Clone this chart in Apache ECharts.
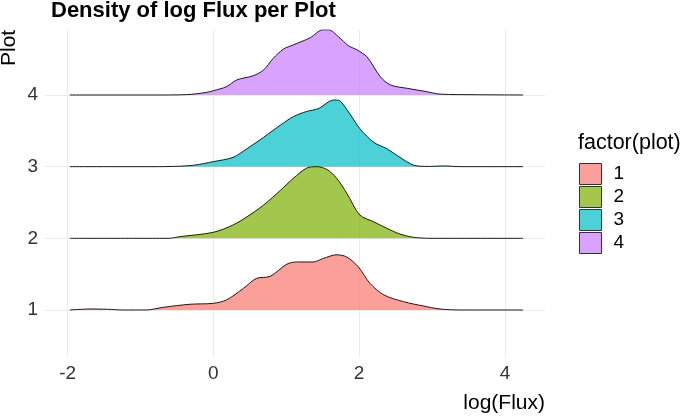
<!DOCTYPE html>
<html>
<head>
<meta charset="utf-8">
<script src="https://cdn.jsdelivr.net/npm/echarts@6/dist/echarts.min.js"></script>
<style>
  html, body { margin: 0; padding: 0; background: #fff; }
  #main { width: 685px; height: 418px; }
</style>
</head>
<body>
<div id="main"></div>
<script>
// ridge data: x = log(Flux), h = density height (in row units)
const plotNames = ['1', '2', '3', '4'];
const plotColors = ['rgba(248,118,109,0.7)', 'rgba(124,174,0,0.7)', 'rgba(0,191,196,0.7)', 'rgba(199,124,255,0.7)'];
const xTicks = [-2, 0, 2, 4];
const yTicks = [1, 2, 3, 4];

const x1 = [-1.97, -1.69, -1.45, -1.24, -0.92, -0.69, -0.32, 0, 0.18, 0.41, 0.59, 0.78, 1.01, 1.14, 1.37, 1.51, 1.69, 1.83, 1.99, 2.15, 2.34, 2.61, 2.88, 3.11, 3.4, 4.25];
const h1 = [0, 0.014, 0.01, 0, 0, 0.037, 0.08, 0.093, 0.14, 0.30, 0.44, 0.47, 0.64, 0.67, 0.67, 0.72, 0.77, 0.74, 0.60, 0.37, 0.21, 0.116, 0.056, 0.014, 0, 0];

const x2 = [-1.97, -0.61, -0.46, 0, 0.27, 0.46, 0.69, 0.92, 1.10, 1.28, 1.42, 1.56, 1.69, 1.83, 2.01, 2.20, 2.38, 2.56, 2.75, 3.0, 4.25];
const h2 = [0, 0, 0.023, 0.084, 0.186, 0.30, 0.465, 0.67, 0.84, 0.98, 1.0, 0.96, 0.84, 0.63, 0.325, 0.23, 0.14, 0.06, 0.014, 0, 0];

const x3 = [-1.97, -0.8, -0.53, -0.27, 0, 0.27, 0.46, 0.69, 0.92, 1.10, 1.28, 1.44, 1.65, 1.72, 1.83, 2.01, 2.20, 2.38, 2.56, 2.75, 2.95, 3.16, 3.4, 4.25];
const h3 = [0, 0, 0.004, 0.02, 0.07, 0.13, 0.25, 0.41, 0.58, 0.70, 0.77, 0.81, 0.93, 0.925, 0.80, 0.53, 0.34, 0.25, 0.13, 0.02, 0.003, 0.01, 0, 0];

const x4 = [-1.97, -0.8, -0.37, -0.1, 0, 0.18, 0.32, 0.55, 0.69, 0.82, 0.96, 1.10, 1.33, 1.50, 1.58, 1.72, 1.85, 1.97, 2.11, 2.29, 2.43, 2.66, 2.93, 3.11, 3.6, 4.25];
const h4 = [0, 0, 0.005, 0.035, 0.06, 0.116, 0.21, 0.27, 0.35, 0.51, 0.64, 0.70, 0.80, 0.91, 0.91, 0.81, 0.69, 0.63, 0.53, 0.255, 0.14, 0.093, 0.046, 0.012, 0.004, 0];

const ridgeX = [x1, x2, x3, x4];
const ridgeH = [h1, h2, h3, h4];

const font = 'Liberation Sans, Arial, sans-serif';

function ridge(i) {
  const base = i + 1;
  const data = [];
  for (let k = 0; k < ridgeX[i].length; ++k) {
    data.push([ridgeX[i][k], base + ridgeH[i][k]]);
  }
  return {
    name: plotNames[i],
    type: 'line',
    data: data,
    smooth: 0.3,
    showSymbol: false,
    symbol: 'none',
    color: plotColors[i],
    lineStyle: { color: '#1a1a1a', width: 1 },
    areaStyle: { color: plotColors[i], opacity: 1, origin: base },
    silent: true
  };
}

// plot 4 first so the lower ridges sit on top
const series = [];
for (let i = 3; i >= 0; --i) series.push(ridge(i));

const myChart = echarts.init(document.getElementById('main'));
const option = {
  animation: false,
  grid: { left: 45, right: 140, top: 30, bottom: 61 },
  xAxis: {
    type: 'value',
    min: -2.31,
    max: 4.55,
    axisLine: { show: false },
    axisTick: { show: false, customValues: xTicks },
    axisLabel: { customValues: xTicks, fontFamily: font, fontSize: 19, color: '#333', margin: 7 },
    splitLine: { lineStyle: { color: '#ebebeb', width: 1 } }
  },
  yAxis: {
    type: 'value',
    min: 0.344,
    max: 4.907,
    axisLine: { show: false },
    axisTick: { show: false, customValues: yTicks },
    axisLabel: { customValues: yTicks, fontFamily: font, fontSize: 19, color: '#333', margin: 7 },
    splitLine: { lineStyle: { color: '#ebebeb', width: 1 } }
  },
  legend: {
    data: plotNames,
    orient: 'vertical',
    left: 579,
    top: 163,
    padding: 0,
    icon: 'rect',
    itemWidth: 22,
    itemHeight: 21,
    itemGap: 1,
    itemStyle: { borderColor: '#333', borderWidth: 1 },
    textStyle: { fontFamily: font, fontSize: 19, color: '#000', padding: [0, 0, 0, 7] }
  },
  graphic: [
    {
      type: 'text', x: 51, y: 0,
      style: { text: 'Density of log Flux per Plot', align: 'left', verticalAlign: 'top', font: 'bold 22px ' + font, fill: '#000' }
    },
    {
      type: 'text', x: 20, y: 66, rotation: Math.PI / 2,
      style: { text: 'Plot', align: 'left', verticalAlign: 'bottom', font: '21px ' + font, fill: '#000' }
    },
    {
      type: 'text', x: 545, y: 393,
      style: { text: 'log(Flux)', align: 'right', verticalAlign: 'top', font: '21px ' + font, fill: '#000' }
    },
    {
      type: 'text', x: 578, y: 132,
      style: { text: 'factor(plot)', align: 'left', verticalAlign: 'top', font: '21.5px ' + font, fill: '#000' }
    }
  ],
  series: series
};
myChart.setOption(option);
</script>
</body>
</html>
